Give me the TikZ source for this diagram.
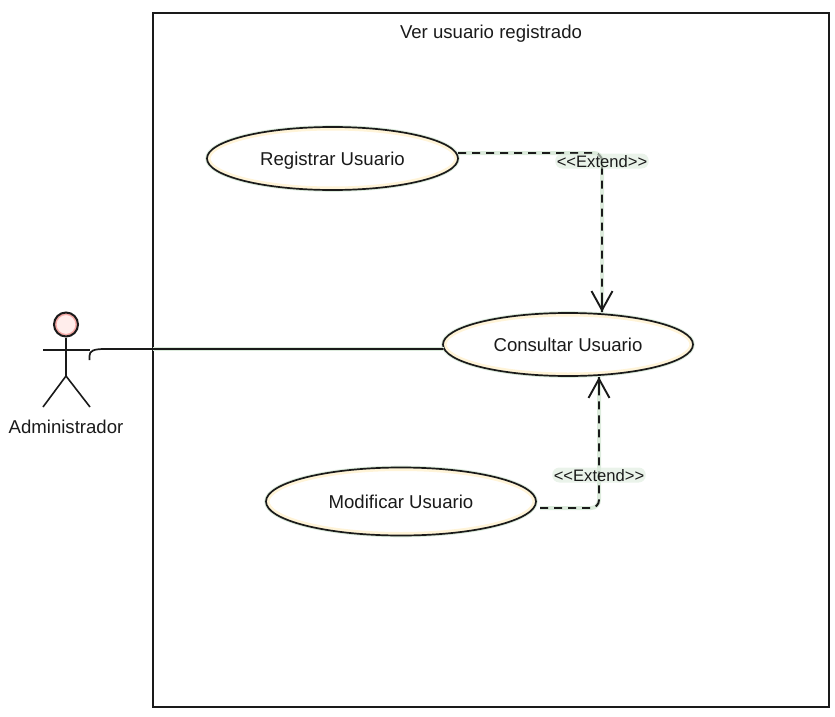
\documentclass[tikz,border=0pt]{standalone}
\usepackage{fontspec}
\setmainfont{Liberation Sans}
\usetikzlibrary{arrows.meta,shapes.geometric}
\definecolor{ink}{HTML}{1A1A1A}
\definecolor{cream}{HTML}{FFF4D8}
\definecolor{halo}{HTML}{DCEBDC}
\definecolor{headpink}{HTML}{F4A9A6}
\definecolor{headcore}{HTML}{FFEDEB}
\tikzset{
  capstext/.style={text height=13.3pt,text depth=0pt},
  usecase/.style 2 args={ellipse,draw=ink,line width=1.7pt,fill=white,inner sep=0pt,
    minimum width=#1 pt,minimum height=#2 pt,
    font=\fontsize{18.6}{22}\selectfont,text=ink,capstext,
    preaction={draw=halo,line width=3.6pt},
    path picture={\draw[cream,line width=7pt] (path picture bounding box.center) ellipse [x radius={#1*0.5pt},y radius={#2*0.5pt}];}},
  limb/.style={draw=ink,line width=1.6pt},
  assoc/.style={draw=ink,line width=1.7pt},
  halotrack/.style={draw=halo,line width=4pt,rounded corners=8pt},
  extendline/.style={draw=ink,line width=1.9pt,dash pattern=on 8pt off 6pt,rounded corners=8pt},
  extendtip/.style={draw=ink,line width=1.9pt,-{Straight Barb[length=19pt,width=21pt,line width=1.9pt]}},
  lbl/.style={inner sep=0pt,text=ink,capstext},
  extlbl/.style={inner sep=1.5pt,text=ink,text height=12pt,text depth=0pt,font=\fontsize{16.6}{20}\selectfont,
    fill=halo,fill opacity=.6,text opacity=1,rounded corners=7pt}
}
\begin{document}
\begin{tikzpicture}[x=1pt,y=-1pt]
\useasboundingbox (0,0) rectangle (835,717);
\node[draw=ink,line width=1.8pt,minimum width=676pt,minimum height=694pt,inner sep=0pt] (frame) at (491,360) {};
\node[lbl,font=\fontsize{18.6}{22}\selectfont] (title) at (491,32) {Ver usuario registrado};

\node[usecase={251}{63}] (reg) at (332.5,158.5) {Registrar Usuario};
\node[usecase={250}{63}] (con) at (568,344.5) {Consultar Usuario};
\node[usecase={270}{68}] (mod) at (401,501.5) {Modificar Usuario};

% actor
\node[circle,draw=ink,line width=2pt,fill=headcore,minimum size=24pt,inner sep=0pt,
  path picture={\draw[headpink,line width=5pt] (path picture bounding box.center) circle [radius=12pt];}] (head) at (66,324.5) {};
\coordinate (hip) at (66,376);
\coordinate (armL) at (43,350);
\coordinate (armR) at (90,350);
\coordinate (legL) at (43,407);
\coordinate (legR) at (90,407);
\path[limb] (head.south) -- (hip);
\path[limb] (armL) -- (armR);
\path[limb] (legL) -- (hip) -- (legR);
\node[lbl,font=\fontsize{18.6}{22}\selectfont] (actor) at (66,427) {Administrador};

% association
\coordinate (stub) at (89.5,360);
\coordinate (conW) at (443.5,349);
\path[draw=halo,line width=4pt] (153,349) -- (conW);
\path[assoc] (stub) -- (89.5,356) .. controls (89.5,351) and (93,349) .. (105,349) -- (conW);

% extend: Registrar -> Consultar
\coordinate (regE) at (458,153);
\coordinate (conN1) at (602,312);
\path[halotrack] (regE) -- (602,153) -- (conN1);
\path[extendline] (regE) -- (602,153) -- (conN1);
\path[extendtip] (602,298) -- (conN1);
\node[extlbl] (ext1) at (602,161) {<{}<Extend>{}>};

% extend: Modificar -> Consultar
\coordinate (modE) at (540,508);
\coordinate (conS) at (599,377);
\path[halotrack] (modE) -- (599,508) -- (conS);
\path[extendline] (modE) -- (599,508) -- (conS);
\path[extendtip] (599,391) -- (conS);
\node[extlbl] (ext2) at (599,475) {<{}<Extend>{}>};
\end{tikzpicture}
\end{document}
